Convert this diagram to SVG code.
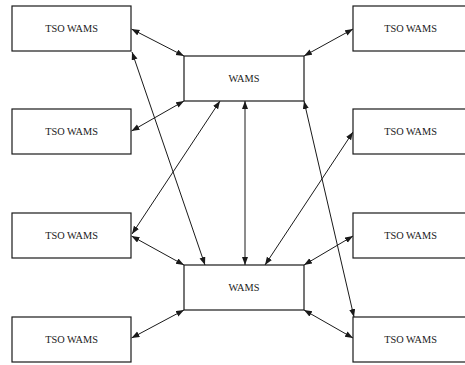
<svg xmlns="http://www.w3.org/2000/svg" width="465" height="365" viewBox="0 0 465 365">
  <style>
    .box { fill: #ffffff; stroke: #1a1a1a; stroke-width: 1.2; }
    .lbl { font-family: "Liberation Serif", "Times New Roman", serif; font-size: 10.3px; fill: #1a1a1a; text-anchor: middle; }
    .link { fill: none; stroke: #1a1a1a; stroke-width: 1; marker-start: url(#arrow); marker-end: url(#arrow); }
  </style>
  <defs>
    <marker id="arrow" markerUnits="userSpaceOnUse" markerWidth="9" markerHeight="7" refX="8" refY="3" orient="auto-start-reverse">
      <path d="M0,0 L8,3 L0,6 Z" fill="#1a1a1a"/>
    </marker>
  </defs>
  <rect width="465" height="365" fill="#ffffff"/>

  <!-- connectors -->
  <g id="connectors">
    <path class="link" d="M131.5,29 L184,56"/>
    <path class="link" d="M131.5,131 L184,101"/>
    <path class="link" d="M132,52 L205,265"/>
    <path class="link" d="M220,101 L132,234"/>
    <path class="link" d="M131.5,236 L184,265"/>
    <path class="link" d="M131.5,338 L184,310"/>
    <path class="link" d="M245,101 L245,265"/>
    <path class="link" d="M353,29 L304,56"/>
    <path class="link" d="M304,101 L354,317"/>
    <path class="link" d="M353,132 L265,265"/>
    <path class="link" d="M353,236 L304,265"/>
    <path class="link" d="M304,310 L353,338"/>
  </g>

  <!-- central WAMS nodes -->
  <g id="wams-top">
    <rect class="box" x="184" y="56" width="120" height="45"/>
    <text class="lbl" x="244" y="82">WAMS</text>
  </g>
  <g id="wams-bottom">
    <rect class="box" x="184" y="265" width="120" height="45"/>
    <text class="lbl" x="244" y="291">WAMS</text>
  </g>

  <!-- left TSO WAMS nodes -->
  <g id="tso-left-1">
    <rect class="box" x="12" y="6" width="119" height="45"/>
    <text class="lbl" x="71.5" y="32">TSO WAMS</text>
  </g>
  <g id="tso-left-2">
    <rect class="box" x="12" y="109" width="119" height="45"/>
    <text class="lbl" x="71.5" y="135">TSO WAMS</text>
  </g>
  <g id="tso-left-3">
    <rect class="box" x="12" y="213" width="119" height="45"/>
    <text class="lbl" x="71.5" y="239">TSO WAMS</text>
  </g>
  <g id="tso-left-4">
    <rect class="box" x="12" y="317" width="119" height="45"/>
    <text class="lbl" x="71.5" y="343">TSO WAMS</text>
  </g>

  <!-- right TSO WAMS nodes -->
  <g id="tso-right-1">
    <rect class="box" x="353" y="6" width="116" height="45"/>
    <text class="lbl" x="410.5" y="32">TSO WAMS</text>
  </g>
  <g id="tso-right-2">
    <rect class="box" x="353" y="109" width="116" height="45"/>
    <text class="lbl" x="410.5" y="135">TSO WAMS</text>
  </g>
  <g id="tso-right-3">
    <rect class="box" x="353" y="213" width="116" height="45"/>
    <text class="lbl" x="410.5" y="239">TSO WAMS</text>
  </g>
  <g id="tso-right-4">
    <rect class="box" x="353" y="317" width="116" height="45"/>
    <text class="lbl" x="410.5" y="343">TSO WAMS</text>
  </g>
</svg>
